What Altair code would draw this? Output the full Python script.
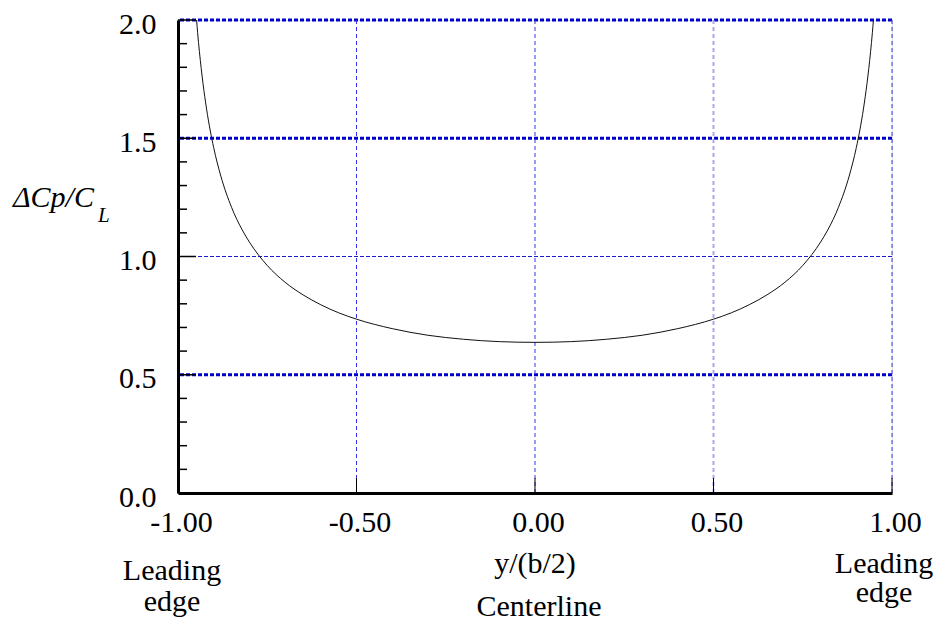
import altair as alt
import pandas as pd

# Curve: spanwise position y/(b/2) and ΔCp/C_L
span_pos = [-0.948, -0.945, -0.94, -0.93, -0.92, -0.90, -0.88, -0.85, -0.82, -0.80,
            -0.75, -0.70, -0.65, -0.60, -0.55, -0.50, -0.40, -0.30, -0.20, -0.10,
            0.0,
            0.10, 0.20, 0.30, 0.40, 0.50, 0.55, 0.60, 0.65, 0.70, 0.75,
            0.80, 0.82, 0.85, 0.88, 0.90, 0.92, 0.93, 0.94, 0.945, 0.948]
dcp_cl = [2.00, 1.946, 1.866, 1.732, 1.624, 1.460, 1.340, 1.208, 1.112, 1.061,
          0.962, 0.891, 0.838, 0.796, 0.762, 0.735, 0.695, 0.667, 0.650, 0.640,
          0.637,
          0.640, 0.650, 0.667, 0.695, 0.735, 0.762, 0.796, 0.838, 0.891, 0.962,
          1.061, 1.112, 1.208, 1.340, 1.460, 1.624, 1.732, 1.866, 1.946, 2.00]

x_ticks = [-1.0, -0.5, 0.0, 0.5, 1.0]
y_ticks = [0.0, 0.5, 1.0, 1.5, 2.0]
y_minor = [0.1, 0.2, 0.3, 0.4, 0.6, 0.7, 0.8, 0.9, 1.1, 1.2, 1.3, 1.4,
           1.6, 1.7, 1.8, 1.9]
h_grid_bold = [0.5, 1.5, 2.0]
h_grid_thin = [1.0]
v_grid = [-0.5, 0.0, 1.0]
v_grid_light = [0.5]
x_inner_ticks = [-0.5, 0.0, 0.5, 1.0]

W, H = 714, 473
FONT = "Liberation Serif"

curve_df = pd.DataFrame({"x": span_pos, "y": dcp_cl})

xscale = alt.Scale(domain=[-1, 1], nice=False, zero=False)
yscale = alt.Scale(domain=[0, 2], nice=False)

xaxis = alt.Axis(values=x_ticks, grid=False, ticks=False, domain=True,
                 domainColor="black", domainWidth=3, labelFont=FONT,
                 labelFontSize=30, labelColor="black", labelPadding=14,
                 labelFlush=False, labelOverlap=False, labelOffset=3,
                 labelExpr="replace(format(datum.value, '.2f'), '\u2212', '-')",
                 title=None, zindex=2)
yaxis = alt.Axis(values=y_ticks, grid=False, ticks=False, domain=True,
                 domainColor="black", domainWidth=3, labelFont=FONT,
                 labelFontSize=30, labelColor="black", labelPadding=22,
                 labelFlush=False, labelOverlap=False, labelOffset=4,
                 format=".1f", title=None, zindex=2)

base_curve = alt.Chart(curve_df).mark_line(
    color="#111111", strokeWidth=1, interpolate="monotone"
).encode(
    x=alt.X("x:Q", scale=xscale, axis=xaxis),
    y=alt.Y("y:Q", scale=yscale, axis=yaxis),
)

hb = alt.Chart(pd.DataFrame({"v": h_grid_bold})).mark_rule(
    color="#0000cc", strokeWidth=3, strokeDash=[4, 2]
).encode(y=alt.Y("v:Q", scale=yscale))

ht = alt.Chart(pd.DataFrame({"v": h_grid_thin})).mark_rule(
    color="#1a1acc", strokeWidth=1, strokeDash=[4, 2]
).encode(y=alt.Y("v:Q", scale=yscale))

vg = alt.Chart(pd.DataFrame({"v": v_grid})).mark_rule(
    color="#3333ee", strokeWidth=1, strokeDash=[4, 3]
).encode(x=alt.X("v:Q", scale=xscale))

vgl = alt.Chart(pd.DataFrame({"v": v_grid_light})).mark_rule(
    color="#a8a8f0", strokeWidth=2, strokeDash=[4, 3]
).encode(x=alt.X("v:Q", scale=xscale))

ymaj = alt.Chart(pd.DataFrame({"v": y_ticks})).mark_rule(
    color="black", strokeWidth=1.5
).encode(y=alt.Y("v:Q", scale=yscale), x=alt.value(0), x2=alt.value(18))

ymin = alt.Chart(pd.DataFrame({"v": y_minor})).mark_rule(
    color="black", strokeWidth=1.5
).encode(y=alt.Y("v:Q", scale=yscale), x=alt.value(0), x2=alt.value(9))

xin = alt.Chart(pd.DataFrame({"v": x_inner_ticks})).mark_rule(
    color="black", strokeWidth=1
).encode(x=alt.X("v:Q", scale=xscale), y=alt.value(H - 15), y2=alt.value(H))


def txt(s, px, py, size=30, italic=False, align="center"):
    return alt.Chart(pd.DataFrame({"t": [s]})).mark_text(
        font=FONT, fontSize=size, fontStyle="italic" if italic else "normal",
        align=align, baseline="alphabetic", color="black"
    ).encode(text="t:N", x=alt.value(px), y=alt.value(py))


texts = [
    txt("\u0394Cp/C", -165, 187, italic=True, align="left"),
    txt("L", -80, 202, size=21, italic=True, align="left"),
    txt("Leading", -6, 560),
    txt("edge", -6, 591),
    txt("y/(b/2)", 357, 553),
    txt("Centerline", 361, 596),
    txt("Leading", 706, 553),
    txt("edge", 706, 582),
]

chart = alt.layer(hb, ht, vg, vgl, base_curve, ymaj, ymin, xin, *texts).properties(
    width=W, height=H,
    autosize=alt.AutoSizeParams(type="none"),
    padding={"left": 178, "top": 20, "right": 47, "bottom": 126},
).configure_view(stroke=None).configure(background="white")

chart.save("out.html", embed_options={"renderer": "svg", "actions": False})
